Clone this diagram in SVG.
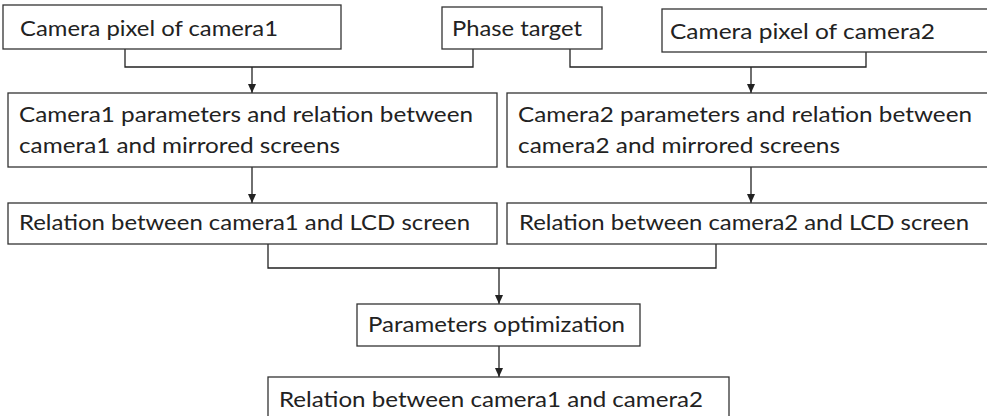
<svg xmlns="http://www.w3.org/2000/svg" width="987" height="416" viewBox="0 0 987 416">
<defs>
<marker id="arr" markerUnits="userSpaceOnUse" markerWidth="9" markerHeight="8" viewBox="0 0 9 8" refX="9" refY="4" orient="auto">
<path d="M0,0 L9,4 L0,8 Z" fill="#222"/>
</marker>
<style>
.box{fill:#fff;stroke:#333;stroke-width:1.3}
.t{font-family:Lato,"Open Sans",sans-serif;font-size:21.5px;fill:#222}
.ln{fill:none;stroke:#222;stroke-width:1.3}
</style>
</defs>
<rect width="987" height="416" fill="#fff"/>
<g id="connectors">
<path class="ln" d="M125,49 V67 H473 V49"/>
<path class="ln" d="M252,67 V93" marker-end="url(#arr)"/>
<path class="ln" d="M570,49 V67 H866 V52"/>
<path class="ln" d="M751,67 V93" marker-end="url(#arr)"/>
<path class="ln" d="M252,167 V203" marker-end="url(#arr)"/>
<path class="ln" d="M751,167 V203" marker-end="url(#arr)"/>
<path class="ln" d="M268,244 V268 H716 V244"/>
<path class="ln" d="M499,268 V304" marker-end="url(#arr)"/>
<path class="ln" d="M499,346 V377" marker-end="url(#arr)"/>
</g>
<g id="pix1">
<rect class="box" x="3" y="5" width="338" height="44"/>
<text class="t" x="20" y="36" textLength="258" lengthAdjust="spacingAndGlyphs">Camera pixel of camera1</text>
</g>
<g id="phase">
<rect class="box" x="442" y="7" width="160" height="42"/>
<text class="t" x="452" y="36" textLength="130" lengthAdjust="spacingAndGlyphs">Phase target</text>
</g>
<g id="pix2">
<rect class="box" x="662" y="9" width="330" height="43"/>
<text class="t" x="670" y="39" textLength="265" lengthAdjust="spacingAndGlyphs">Camera pixel of camera2</text>
</g>
<g id="cam1params">
<rect class="box" x="8" y="93" width="489" height="74"/>
<text class="t" x="19" y="122" textLength="454" lengthAdjust="spacingAndGlyphs">Camera1 parameters and relation between</text>
<text class="t" x="19" y="153" textLength="321" lengthAdjust="spacingAndGlyphs">camera1 and mirrored screens</text>
</g>
<g id="cam2params">
<rect class="box" x="507" y="93" width="485" height="74"/>
<text class="t" x="518" y="122" textLength="454" lengthAdjust="spacingAndGlyphs">Camera2 parameters and relation between</text>
<text class="t" x="518" y="153" textLength="322" lengthAdjust="spacingAndGlyphs">camera2 and mirrored screens</text>
</g>
<g id="cam1lcd">
<rect class="box" x="8" y="203" width="489" height="41"/>
<text class="t" x="19" y="230" textLength="451" lengthAdjust="spacingAndGlyphs">Relation between camera1 and LCD screen</text>
</g>
<g id="cam2lcd">
<rect class="box" x="507" y="203" width="485" height="41"/>
<text class="t" x="519" y="230" textLength="450" lengthAdjust="spacingAndGlyphs">Relation between camera2 and LCD screen</text>
</g>
<g id="optim">
<rect class="box" x="357" y="304" width="283" height="42"/>
<text class="t" x="368" y="332" textLength="257" lengthAdjust="spacingAndGlyphs">Parameters optimization</text>
</g>
<g id="stereo">
<rect class="box" x="268" y="377" width="461" height="45"/>
<text class="t" x="279" y="407" textLength="424" lengthAdjust="spacingAndGlyphs">Relation between camera1 and camera2</text>
</g>
</svg>
